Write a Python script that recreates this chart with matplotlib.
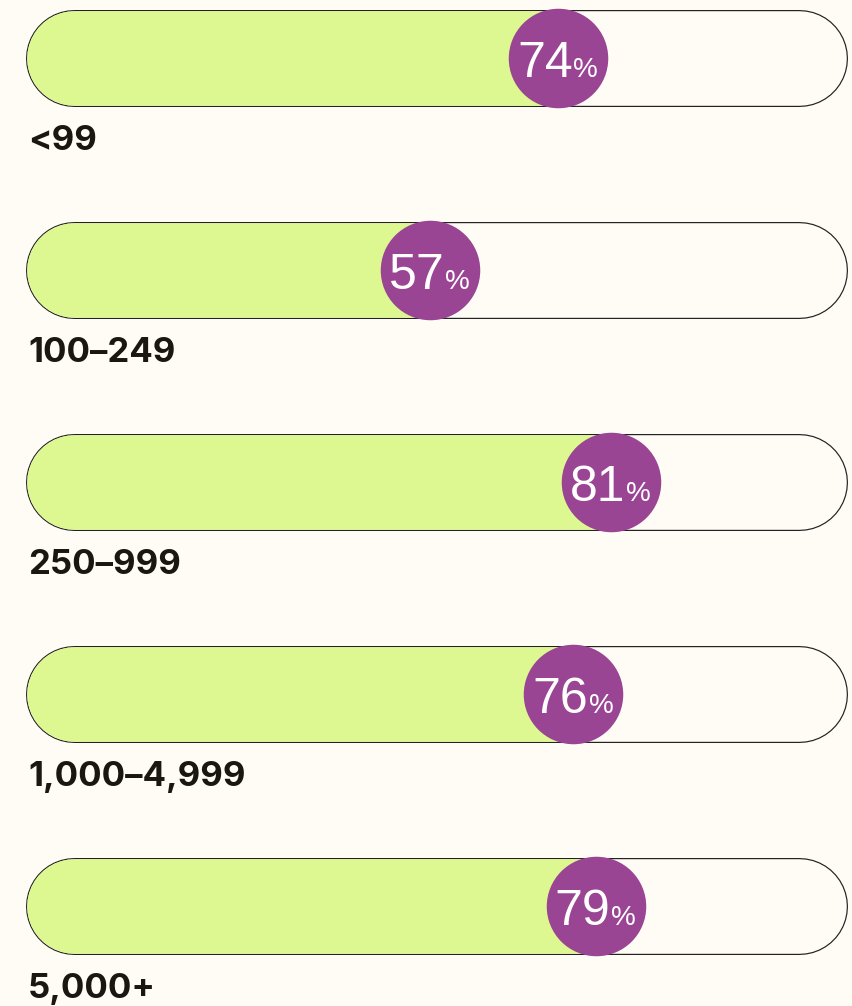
import matplotlib
matplotlib.use('Agg')
import matplotlib.pyplot as plt

# data
groups = ['<99', '100–249', '250–999', '1,000–4,999', '5,000+']
shares = [74, 57, 81, 76, 79]

bg = '#FFFCF5'
green = '#DDF791'
purple = '#9A4494'
ink = '#1A1712'

DPI = 100
PT = 72 / DPI  # points per pixel

fig = plt.figure(figsize=(8.53, 10.06), dpi=DPI, facecolor=bg)
ax = fig.add_axes([0, 0, 1, 1])
ax.set_facecolor(bg)
ax.set_xlim(-0.03, 113.1)
ax.set_ylim(4.474, -0.275)
ax.axis('off')

track_a, track_b = 9.78, 105.93
outer_h = 97 * PT
inner_h = 94.6 * PT
dot = 99.5 * PT

for i, (g, v) in enumerate(zip(groups, shares)):
    # pill track: outline then cream body, round caps make the ends
    ax.plot([track_a, track_b], [i, i], color='#222222', lw=outer_h,
            solid_capstyle='round', zorder=1)
    ax.plot([track_a, track_b], [i, i], color=bg, lw=inner_h,
            solid_capstyle='round', zorder=2)
    # green fill up to the value
    ax.plot([track_a, v], [i, i], color=green, lw=inner_h,
            solid_capstyle='round', zorder=3)
    # purple dot with value
    ax.scatter([v], [i], s=dot ** 2, color=purple, linewidths=0, zorder=4)
    ax.annotate(str(v), (v, i), xytext=(10.4, -13.7), textcoords='offset points',
                ha='right', va='baseline', color='white', fontsize=36,
                family=['Liberation Sans', 'DejaVu Sans'], zorder=5)
    ax.annotate('%', (v, i), xytext=(11.0, -13.7), textcoords='offset points',
                ha='left', va='baseline', color='white', fontsize=20,
                family=['Liberation Sans', 'DejaVu Sans'], zorder=5)
    # group label under the track
    ax.text(3.68, i + 0.435, g, ha='left', va='baseline', color=ink,
            fontsize=25, fontweight='bold', family=['Inter', 'DejaVu Sans'])

plt.savefig('out.png', dpi=DPI, facecolor=bg)
plt.close()
